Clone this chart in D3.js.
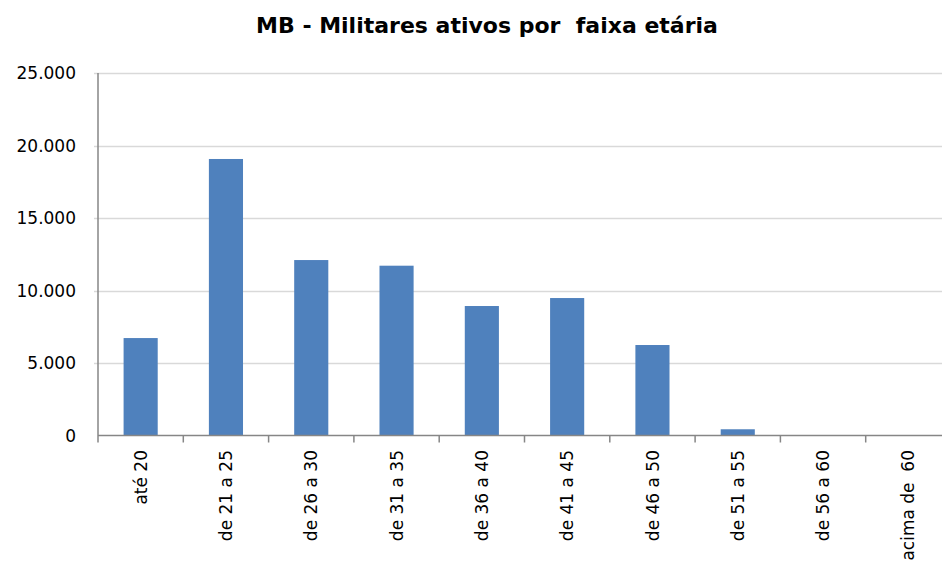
<!DOCTYPE html>
<html>
<head>
<meta charset="utf-8">
<script src="https://cdn.jsdelivr.net/npm/d3@7"></script>
<style>
  body { margin: 0; background: #fff; }
  svg { display: block; font-family: "DejaVu Sans", sans-serif; }
</style>
</head>
<body>
<svg id="chart" width="942" height="566"></svg>
<script>
// chart data
const categories = ["até 20", "de 21 a 25", "de 26 a 30", "de 31 a 35", "de 36 a 40",
                    "de 41 a 45", "de 46 a 50", "de 51 a 55", "de 56 a 60", "acima de  60"];
const militares = [6720, 19070, 12100, 11710, 8930, 9480, 6240, 430, 0, 0];
const yTicks = [0, 5000, 10000, 15000, 20000, 25000];
const titleText = "MB - Militares ativos por  faixa etária";

const width = 942, height = 566;
const plotLeft = 98, plotRight = 951, plotTop = 73, plotBottom = 435.5;

const svg = d3.select("#chart");

// pt-BR style thousands separator
const fmt = d => d === 0 ? "0" : d3.format(",")(d).replace(/,/g, ".");

let x = d3.scaleBand()
    .domain(categories)
    .range([plotLeft, plotRight])
    .paddingInner(0)
    .paddingOuter(0);

let y = d3.scaleLinear()
    .domain([0, 25000])
    .range([plotBottom, plotTop]);

// gridlines
svg.append("g")
    .selectAll("line")
    .data(yTicks.filter(d => d > 0))
    .enter()
    .append("line")
    .attr("x1", plotLeft - 4)
    .attr("x2", width)
    .attr("y1", d => Math.round(y(d)) + 0.5)
    .attr("y2", d => Math.round(y(d)) + 0.5)
    .style("stroke", "#d9d9d9")
    .style("stroke-width", 1.5);

// y labels
svg.append("g")
    .selectAll("text")
    .data(yTicks)
    .enter()
    .append("text")
    .attr("x", 76)
    .attr("y", d => y(d))
    .attr("dy", "0.36em")
    .attr("text-anchor", "end")
    .style("font-size", "17px")
    .style("fill", "#000")
    .text(fmt);

// bars
const bw = x.bandwidth() * 0.4;
svg.append("g")
    .selectAll("rect")
    .data(militares)
    .enter()
    .append("rect")
    .attr("x", (d, i) => x(categories[i]) + (x.bandwidth() - bw) / 2)
    .attr("y", d => y(d))
    .attr("width", bw)
    .attr("height", d => plotBottom - y(d))
    .style("fill", "#4f81bd");

// axis lines
svg.append("line")
    .attr("x1", plotLeft).attr("x2", width)
    .attr("y1", plotBottom).attr("y2", plotBottom)
    .style("stroke", "#868686").style("stroke-width", 1.5);

svg.append("line")
    .attr("x1", plotLeft).attr("x2", plotLeft)
    .attr("y1", plotTop).attr("y2", plotBottom + 7)
    .style("stroke", "#868686").style("stroke-width", 1.5);

// ticks between categories
svg.append("g")
    .selectAll("line")
    .data(categories.slice(1))
    .enter()
    .append("line")
    .attr("x1", d => x(d))
    .attr("x2", d => x(d))
    .attr("y1", plotBottom)
    .attr("y2", plotBottom + 7)
    .style("stroke", "#868686")
    .style("stroke-width", 1.5);

// x labels, rotated
svg.append("g")
    .selectAll("text")
    .data(categories)
    .enter()
    .append("text")
    .attr("transform", d => `translate(${x(d) + x.bandwidth() / 2}, 450) rotate(-90)`)
    .attr("dy", "0.36em")
    .attr("text-anchor", "end")
    .style("font-size", "17px")
    .style("white-space", "pre")
    .style("fill", "#000")
    .text(d => d);

// title
svg.append("text")
    .attr("x", 487)
    .attr("y", 33)
    .attr("text-anchor", "middle")
    .style("font-size", "22px")
    .style("font-weight", "bold")
    .style("white-space", "pre")
    .style("fill", "#000")
    .text(titleText);
</script>
</body>
</html>
